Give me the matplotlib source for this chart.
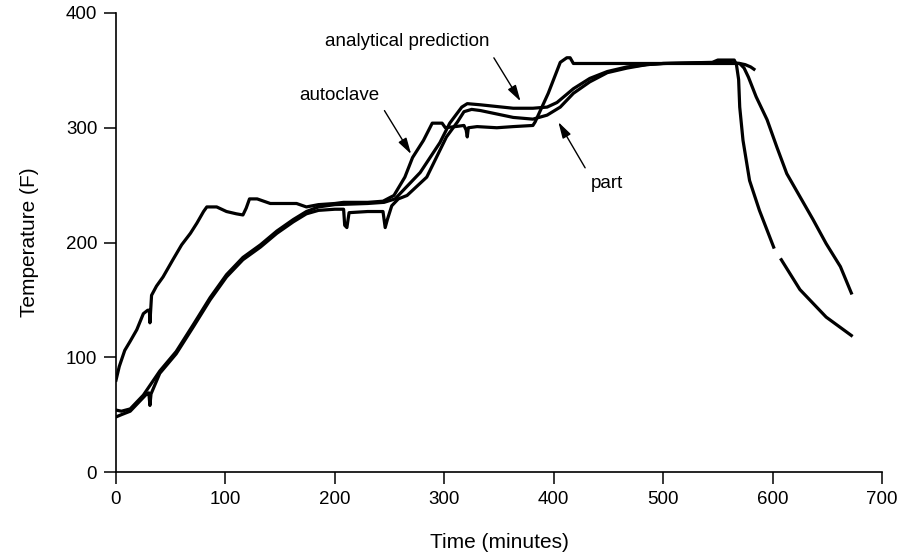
import numpy as np
import matplotlib.pyplot as plt

plt.rcParams['font.family'] = ['Liberation Sans', 'DejaVu Sans']

# autoclave air temperature (NaN = gap in the trace)
t_auto = [0, 3, 8, 13, 19, 25, 29, 30.5, 31, 32.5, 37, 43, 52, 60, 68, 74, 80, 83,
          92, 101, 110, 116, 119, 122, 129, 135, 141, 165, 174, 185, 200, 208,
          230, 244, 250, 254, 264, 271, 281, 289, 298, 301, 310, 318, 320, 321,
          322, 330, 348, 363, 381, 383, 395, 406, 412, 415, 418, 450, 500, 545,
          550, 565, 567, 569, 570, 573, 579, 588, 601, 604, 608, 625, 649, 672]
T_auto = [80, 92, 106, 114, 124, 138, 141, 141, 130, 154, 162, 170, 185, 198, 208,
          217, 227, 231, 231, 227, 225, 224, 230, 238, 238, 236, 234, 234, 231,
          233, 234, 235, 235, 236, 239, 241, 257, 274, 289, 304, 304, 300, 301,
          302, 298, 292, 300, 301, 300, 301, 302, 305, 330, 357, 361, 361, 356,
          356, 356, 357, 359, 359, 355, 342, 318, 289, 254, 228, 196, np.nan,
          185, 159, 135, 119]

# measured part temperature
t_part = [0, 5, 13, 20, 25, 28, 30, 31, 32, 40, 55, 71, 86, 101, 116, 132, 147,
          162, 174, 185, 200, 208, 209, 211, 213, 230, 244, 246, 248, 252, 258,
          266, 284, 302, 312, 318, 325, 333, 348, 363, 381, 394, 406, 418, 433,
          449, 467, 485, 500, 570, 575, 580, 583]
T_part = [48, 50, 53, 60, 65, 68, 69, 58, 68, 86, 103, 127, 150, 170, 185, 196,
          208, 218, 225, 228, 229, 229, 215, 213, 226, 227, 227, 213, 220, 232,
          238, 241, 257, 292, 305, 314, 316, 315, 312, 309, 307.5, 311, 318, 330,
          340, 348, 352, 355, 356, 356, 355, 353, 351]

# analytical prediction
t_pred = [0, 5, 13, 25, 40, 55, 71, 86, 101, 116, 132, 147, 162, 174, 185, 200,
          230, 245, 255, 260, 278, 296, 305, 316, 321, 333, 363, 381, 394, 403,
          418, 433, 449, 467, 485, 500, 560, 570, 574, 578, 585, 595, 604, 613,
          625, 637, 649, 662, 672]
T_pred = [54, 53, 55, 67, 88, 105, 129, 152, 172, 187, 198, 210, 220, 227, 231,
          233, 234, 235, 238, 243, 261, 287, 304, 318, 321, 320, 317, 317, 318,
          322, 334, 343, 349, 353, 355, 356, 357, 356, 352, 344, 327, 307, 283,
          260, 240, 220, 199, 179, 156]

fig = plt.figure(figsize=(9.02, 5.6), dpi=100)
ax = fig.add_axes([0.1286, 0.1571, 0.8492, 0.8197])

lw = 2.3
ax.plot(t_auto, T_auto, color='black', lw=lw)
ax.plot(t_part, T_part, color='black', lw=lw)
ax.plot(t_pred, T_pred, color='black', lw=lw)

ax.set_xlim(0, 700)
ax.set_ylim(0, 400)
ax.set_xticks(range(0, 701, 100))
ax.set_yticks(range(0, 401, 100))
ax.spines['top'].set_visible(False)
ax.spines['right'].set_visible(False)
for s in ['left', 'bottom']:
    ax.spines[s].set_linewidth(1.2)
ax.tick_params(direction='out', length=8.5, width=1.1, labelsize=13.5, pad=5)
ax.set_xlabel('Time (minutes)', fontsize=15, labelpad=18)
ax.set_ylabel('Temperature (F)', fontsize=15, labelpad=19)

arrow = dict(arrowstyle='-|>,head_length=0.7,head_width=0.2', color='black',
             lw=1.0, mutation_scale=14)
ax.annotate('', xy=(371, 321), xytext=(344, 363), arrowprops=arrow)
ax.text(266, 375, 'analytical prediction', fontsize=13.5, ha='center', va='center')
ax.annotate('', xy=(271, 275), xytext=(244, 317), arrowprops=arrow)
ax.text(204, 328, 'autoclave', fontsize=13.5, ha='center', va='center')
ax.annotate('', xy=(403, 307), xytext=(430, 263), arrowprops=arrow)
ax.text(449, 251, 'part', fontsize=13.5, ha='center', va='center')

fig.savefig('out.png', dpi=100)
